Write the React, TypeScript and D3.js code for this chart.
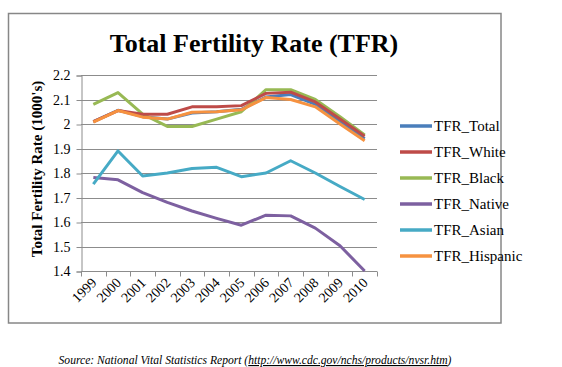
import React, { useEffect, useRef } from "react";
import * as d3 from "d3";

const years = ["1999", "2000", "2001", "2002", "2003", "2004", "2005", "2006", "2007", "2008", "2009", "2010"];
const yTicks = [1.4, 1.5, 1.6, 1.7, 1.8, 1.9, 2.0, 2.1, 2.2];

const tfrTotal = [2.01, 2.056, 2.03, 2.02, 2.045, 2.05, 2.06, 2.11, 2.12, 2.08, 2.01, 1.94];
const tfrWhite = [2.01, 2.055, 2.04, 2.04, 2.07, 2.07, 2.075, 2.125, 2.13, 2.09, 2.02, 1.95];
const tfrBlack = [2.08, 2.128, 2.04, 1.99, 1.99, 2.02, 2.05, 2.14, 2.14, 2.10, 2.03, 1.955];
const tfrNative = [1.782, 1.772, 1.72, 1.68, 1.645, 1.615, 1.587, 1.628, 1.625, 1.575, 1.503, 1.40];
const tfrAsian = [1.755, 1.89, 1.788, 1.80, 1.818, 1.823, 1.785, 1.80, 1.85, 1.80, 1.745, 1.692];
const tfrHispanic = [2.008, 2.055, 2.028, 2.02, 2.048, 2.05, 2.058, 2.108, 2.10, 2.07, 2.0, 1.932];

const seriesNames = ["TFR_Total", "TFR_White", "TFR_Black", "TFR_Native", "TFR_Asian", "TFR_Hispanic"];
const seriesValues = [tfrTotal, tfrWhite, tfrBlack, tfrNative, tfrAsian, tfrHispanic];
const seriesColors = ["#4a7ebb", "#be4b48", "#98b954", "#7d60a0", "#46aac5", "#f69240"];

// draw order: total under the others, like the picture
const drawOrder = [0, 3, 4, 2, 1, 5];

function App() {
    const ref = useRef<SVGSVGElement | null>(null);

    useEffect(() => {
        const svg = d3.select(ref.current);
        svg.selectAll("*").remove();

        const plot = { left: 81, right: 377, top: 75, bottom: 271 };
        const serif = "'Liberation Serif', 'Times New Roman', serif";

        const x = d3.scaleBand().domain(years).range([plot.left, plot.right]);
        const y = d3.scaleLinear().domain([1.4, 2.2]).range([plot.bottom, plot.top]);

        // outer frame
        svg.append("rect")
            .attr("x", 8.5)
            .attr("y", 13.5)
            .attr("width", 492.5)
            .attr("height", 309.5)
            .style("fill", "#fff")
            .style("stroke", "#878787")
            .style("stroke-width", 1.5);

        svg.append("text")
            .attr("x", 254)
            .attr("y", 52)
            .attr("text-anchor", "middle")
            .style("font-family", serif)
            .style("font-weight", "bold")
            .style("font-size", "26px")
            .text("Total Fertility Rate (TFR)");

        // gridlines
        svg.append("g")
            .selectAll("line")
            .data(yTicks.slice(1))
            .enter()
            .append("line")
            .attr("x1", plot.left)
            .attr("x2", plot.right)
            .attr("y1", (d) => Math.round(y(d)) + 0.5)
            .attr("y2", (d) => Math.round(y(d)) + 0.5)
            .style("stroke", "#8c8c8c")
            .style("stroke-width", 1);

        // y axis
        const yAxis = svg.append("g")
            .attr("transform", "translate(" + (plot.left + 0.5) + ",0.5)")
            .call(d3.axisLeft(y).tickValues(yTicks).tickSize(5).tickFormat((d) => d3.format("")(+d)));
        yAxis.select(".domain").style("stroke", "#8c8c8c");
        yAxis.selectAll(".tick line").style("stroke", "#8c8c8c");
        yAxis.selectAll(".tick text")
            .attr("x", -11)
            .style("font-family", serif)
            .style("font-size", "14px")
            .style("fill", "#000");

        // x axis
        const xAxisG = svg.append("g").attr("transform", "translate(0," + (Math.round(plot.bottom) + 0.5) + ")");
        xAxisG.append("line")
            .attr("x1", plot.left)
            .attr("x2", plot.right)
            .style("stroke", "#8c8c8c");
        const edges = years.map((d) => x(d) as number).concat([plot.right]);
        xAxisG.selectAll(".xtick")
            .data(edges)
            .enter()
            .append("line")
            .attr("x1", (d) => Math.round(d) + 0.5)
            .attr("x2", (d) => Math.round(d) + 0.5)
            .attr("y1", 0)
            .attr("y2", 5)
            .style("stroke", "#8c8c8c");
        xAxisG.selectAll(".xlabel")
            .data(years)
            .enter()
            .append("text")
            .attr("text-anchor", "end")
            .attr("transform", (d) => "translate(" + ((x(d) as number) + x.bandwidth() / 2 + 4) + ",12) rotate(-45)")
            .style("font-family", serif)
            .style("font-size", "14px")
            .text((d) => d);

        // y axis title
        svg.append("text")
            .attr("text-anchor", "middle")
            .attr("transform", "translate(42,169) rotate(-90)")
            .style("font-family", serif)
            .style("font-weight", "bold")
            .style("font-size", "15px")
            .text("Total Fertility Rate (1000's)");

        const line = d3.line<number>()
            .x((d, i) => (x(years[i]) as number) + x.bandwidth() / 2)
            .y((d) => y(d));

        svg.append("g")
            .selectAll("path")
            .data(drawOrder)
            .enter()
            .append("path")
            .attr("d", (k) => line(seriesValues[k]))
            .style("fill", "none")
            .style("stroke", (k) => seriesColors[k])
            .style("stroke-width", 3)
            .style("stroke-linejoin", "round");

        // legend
        const legend = svg.append("g")
            .selectAll("g")
            .data(seriesNames)
            .enter()
            .append("g")
            .attr("transform", (d, i) => "translate(400," + (126 + i * 26) + ")");
        legend.append("line")
            .attr("x1", 0)
            .attr("x2", 32)
            .style("stroke", (d, i) => seriesColors[i])
            .style("stroke-width", 3.5);
        legend.append("text")
            .attr("x", 34)
            .attr("y", 5)
            .style("font-family", serif)
            .style("font-size", "15px")
            .text((d) => d);

        // source note
        const src = svg.append("text")
            .attr("x", 255)
            .attr("y", 364)
            .attr("text-anchor", "middle")
            .style("font-family", serif)
            .style("font-style", "italic")
            .style("font-size", "11.6px");
        src.append("tspan").text("Source: National Vital Statistics Report (");
        src.append("tspan").style("text-decoration", "underline").text("http://www.cdc.gov/nchs/products/nvsr.htm");
        src.append("tspan").text(")");
    }, []);

    return (
        <div style={{ position: "absolute", left: 0, top: 0 }}>
            <svg ref={ref} width={562} height={367} style={{ display: "block", background: "#fff" }}></svg>
        </div>
    );
}

export default App;
